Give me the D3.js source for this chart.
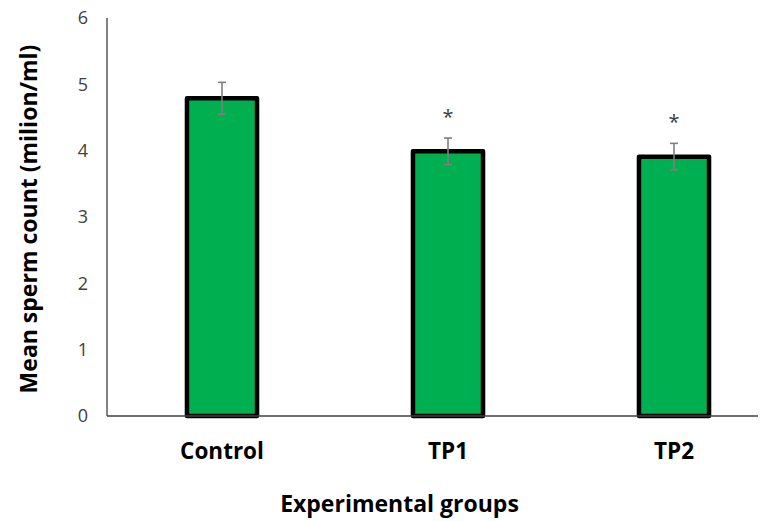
<!DOCTYPE html>
<html><head><meta charset="utf-8">
<script src="https://cdn.jsdelivr.net/npm/d3@7"></script>
<style>body{margin:0;background:#fff}svg{display:block}</style>
</head><body>
<script>
const categories = ["Control", "TP1", "TP2"];
const means = [4.79, 3.99, 3.91];
const errors = [0.24, 0.2, 0.2];
const marks = ["", "*", "*"];
const yTicks = [0, 1, 2, 3, 4, 5, 6];

const W = 774, H = 521;
const svg = d3.select("body").append("svg").attr("width", W).attr("height", H);
const font = "Open Sans, Calibri, Carlito, sans-serif";

const x = d3.scaleBand().domain(categories).range([109, 787]).paddingInner(0.69).paddingOuter(0.345);
const y = d3.scaleLinear().domain([0, 6]).range([416, 18]);

// y axis line
svg.append("line").attr("x1", 107).attr("x2", 107).attr("y1", y(6)).attr("y2", y(0))
  .attr("stroke", "#404040").attr("stroke-width", 1.3);

// y tick labels
const yAxis = d3.axisLeft(y).tickValues(yTicks).tickSize(0).tickPadding(19).tickFormat(d3.format("d"));
const gy = svg.append("g").attr("transform", "translate(107,0)").call(yAxis);
gy.select(".domain").remove();
gy.selectAll("text").attr("font-family", font).attr("font-size", 18).attr("fill", "#404040");

// bars
svg.append("g").selectAll("rect").data(categories).join("rect")
  .attr("x", d => x(d))
  .attr("y", (d, i) => y(means[i]))
  .attr("width", x.bandwidth())
  .attr("height", (d, i) => y(0) - y(means[i]))
  .attr("fill", "#00B050").attr("stroke", "#000").attr("stroke-width", 4.5)
  .attr("stroke-linejoin", "round");

// x axis line
svg.append("line").attr("x1", 107).attr("x2", 758).attr("y1", y(0)).attr("y2", y(0))
  .attr("stroke", "#404040").attr("stroke-width", 1.3);

// error bars and significance marks
const eg = svg.append("g").attr("stroke", "#7f7f7f").attr("stroke-width", 1.6);
categories.forEach((c, i) => {
  const cx = x(c) + x.bandwidth() / 2;
  const top = y(means[i] + errors[i]), bot = y(means[i] - errors[i]);
  eg.append("line").attr("x1", cx).attr("x2", cx).attr("y1", top).attr("y2", bot);
  eg.append("line").attr("x1", cx - 4).attr("x2", cx + 4).attr("y1", top).attr("y2", top);
  eg.append("line").attr("x1", cx - 4).attr("x2", cx + 4).attr("y1", bot).attr("y2", bot);
  if (marks[i]) {
    svg.append("text").attr("x", cx).attr("y", top - 14)
      .attr("text-anchor", "middle").attr("font-family", font).attr("font-size", 20)
      .attr("fill", "#404040").text(marks[i]);
  }
});

// x labels
const xAxis = d3.axisBottom(x).tickSize(0).tickPadding(0);
const gx = svg.append("g").attr("transform", "translate(0,416)").call(xAxis);
gx.select(".domain").remove();
gx.selectAll("text").attr("dy", null).attr("y", 43)
  .attr("font-family", font).attr("font-size", 22.5).attr("font-weight", "bold").attr("fill", "#000");

// titles
svg.append("text").attr("x", 399.5).attr("y", 512).attr("text-anchor", "middle")
  .attr("font-family", font).attr("font-size", 23).attr("font-weight", "bold").text("Experimental groups");
svg.append("text").attr("transform", "translate(37,219) rotate(-90)").attr("text-anchor", "middle")
  .attr("font-family", font).attr("font-size", 23).attr("font-weight", "bold").text("Mean sperm count (milion/ml)");
</script>
</body></html>
